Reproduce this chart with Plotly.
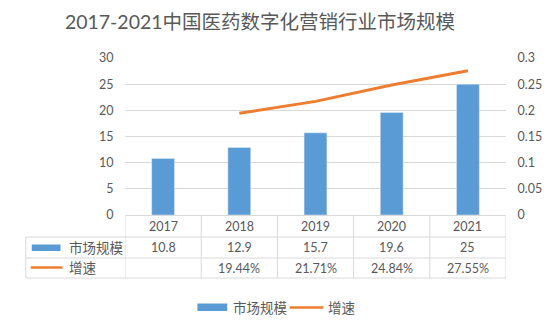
import plotly.graph_objects as go

# Data
years = ["2017", "2018", "2019", "2020", "2021"]
market_size = [10.8, 12.9, 15.7, 19.6, 25]
growth_years = ["2018", "2019", "2020", "2021"]
growth = [0.1944, 0.2171, 0.2484, 0.2755]

size_labels = [f"{v:g}" for v in market_size]
growth_labels = {y: f"{g * 100:.2f}%" for y, g in zip(growth_years, growth)}

BLUE = "#5B9BD5"
ORANGE = "#ED7D31"
GRID = "#D9D9D9"
TXT = "#595959"
FONT = "Lato, 'Noto Sans CJK SC', sans-serif"

W, H = 554, 331
PL, PR, PT, PB = 125, 509, 58, 215  # plot area in pixels


def xp(px):
    return (px - PL) / (PR - PL)


def yp(py):
    return (PB - py) / (PB - PT)


def label(x, xref, py, text, size=12.5, xanchor="center"):
    return dict(x=x, xref=xref, y=yp(py), yref="paper", text=text, showarrow=False,
                xanchor=xanchor, yanchor="middle",
                font=dict(size=size, color=TXT, family=FONT))


fig = go.Figure()
fig.add_trace(go.Bar(x=years, y=market_size, name="市场规模", marker_color=BLUE,
                     width=0.3, showlegend=False))
fig.add_trace(go.Scatter(x=growth_years, y=growth, name="增速", yaxis="y2", mode="lines",
                         line=dict(color=ORANGE, width=3), showlegend=False))

shapes = []
annotations = []

# data table grid
for py in [237, 258, 278]:
    shapes.append(dict(type="line", xref="paper", yref="paper", x0=xp(25), x1=xp(PR),
                       y0=yp(py), y1=yp(py), line=dict(color=GRID, width=1)))
for i in range(len(years) + 1):
    shapes.append(dict(type="line", xref="x", yref="paper", x0=i - 0.5, x1=i - 0.5,
                       y0=yp(PB), y1=yp(278), line=dict(color=GRID, width=1)))
shapes.append(dict(type="line", xref="paper", yref="paper", x0=xp(25), x1=xp(25),
                   y0=yp(237), y1=yp(278), line=dict(color=GRID, width=1)))

# table contents (category axis positions are serial indices)
for i, y in enumerate(years):
    annotations.append(label(i, "x", 226, y))
    annotations.append(label(i, "x", 247.5, size_labels[i]))
    if y in growth_labels:
        annotations.append(label(i, "x", 268, growth_labels[y]))

# table row keys
shapes.append(dict(type="rect", xref="paper", yref="paper", x0=xp(31), x1=xp(60),
                   y0=yp(251), y1=yp(244.5), fillcolor=BLUE, line=dict(width=0)))
shapes.append(dict(type="line", xref="paper", yref="paper", x0=xp(30), x1=xp(62),
                   y0=yp(267.5), y1=yp(267.5), line=dict(color=ORANGE, width=2.5)))
annotations.append(label(xp(67), "paper", 247.5, "市场规模", 13.5, "left"))
annotations.append(label(xp(67), "paper", 268, "增速", 13.5, "left"))

# bottom legend
shapes.append(dict(type="rect", xref="paper", yref="paper", x0=xp(198), x1=xp(228),
                   y0=yp(311), y1=yp(303.5), fillcolor=BLUE, line=dict(width=0)))
shapes.append(dict(type="line", xref="paper", yref="paper", x0=xp(291), x1=xp(325),
                   y0=yp(307.5), y1=yp(307.5), line=dict(color=ORANGE, width=2.5)))
annotations.append(label(xp(232), "paper", 307.5, "市场规模", 13.5, "left"))
annotations.append(label(xp(328), "paper", 307.5, "增速", 13.5, "left"))

fig.update_layout(
    width=W, height=H,
    margin=dict(l=PL, r=W - PR, t=PT, b=H - PB, pad=0),
    paper_bgcolor="white", plot_bgcolor="white",
    title=dict(text="2017-2021中国医药数字化营销行业市场规模", x=260 / W, xanchor="center",
               y=1 - 22 / H, yanchor="middle", font=dict(size=19.5, color=TXT, family=FONT)),
    xaxis=dict(type="category", range=[-0.5, 4.5], showticklabels=False, showgrid=False,
               showline=True, linecolor=GRID, linewidth=1, ticks="", fixedrange=True),
    yaxis=dict(range=[0, 30], dtick=5, showgrid=True, gridcolor=GRID, gridwidth=1,
               zeroline=False, showline=False, ticks="outside", ticklen=8,
               tickcolor="rgba(0,0,0,0)", tickfont=dict(size=12.5, color=TXT, family=FONT)),
    yaxis2=dict(range=[0, 0.3], dtick=0.05, overlaying="y", side="right", showgrid=False,
                zeroline=False, showline=False, ticks="outside", ticklen=8,
                tickcolor="rgba(0,0,0,0)", tickfont=dict(size=12.5, color=TXT, family=FONT)),
    shapes=shapes, annotations=annotations, showlegend=False,
)

fig.write_html("out.html")
